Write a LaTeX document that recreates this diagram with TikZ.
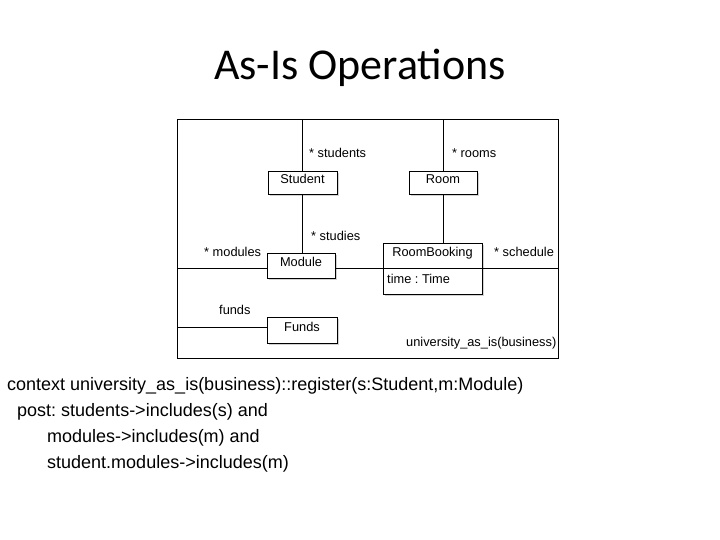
\documentclass[tikz,border=0pt]{standalone}
\usepackage{fontspec}
\setmainfont{Liberation Sans}
\newfontfamily\titlefont{Carlito}
\usetikzlibrary{shadows}
\frenchspacing
\begin{document}
\frenchspacing
\begin{tikzpicture}[x=1pt,y=-1pt,
  umlbox/.style={draw=black,fill=white,line width=0.8pt,inner sep=0pt,
    drop shadow={shadow xshift=2pt,shadow yshift=-2pt,fill=gray!35,opacity=1}},
  umltxt/.style={inner sep=0pt,font=\fontsize{12.8}{14}\selectfont},
  lbl/.style={inner sep=0pt,anchor=west,font=\fontsize{12.8}{14}\selectfont},
  ocl/.style={inner sep=0pt,anchor=west,font=\frenchspacing\fontsize{18}{20}\selectfont},
  conn/.style={draw=black,line width=0.8pt}]
\useasboundingbox (0,0) rectangle (720,540);
% title
\node[inner sep=0pt,font=\titlefont\fontsize{44}{48}\selectfont] (title) at (360,68) {As-Is Operations};
% frame
\draw[line width=0.8pt] (177,119) rectangle (558,358);
\coordinate (stop) at (302.5,119);
\coordinate (rtop) at (443,119);
\coordinate (ml) at (177,268);
\coordinate (mr) at (558,268);
\coordinate (fl) at (177,327);
% classes
\node[umlbox,minimum width=69,minimum height=23] (student) at (302.5,182.5) {};
\node[umltxt] (studentT) at (302.5,179) {Student};
\node[umlbox,minimum width=68,minimum height=23] (room) at (443,182.5) {};
\node[umltxt] (roomT) at (443,179) {Room};
\node[umlbox,minimum width=68,minimum height=25] (module) at (301,265.5) {};
\node[umltxt] (moduleT) at (301,262) {Module};
\node[umlbox,minimum width=99,minimum height=51] (rb) at (432.5,268.5) {};
\node[umltxt] (rbT) at (432.5,253) {RoomBooking};
\node[umlbox,minimum width=70,minimum height=26] (funds) at (302,330) {};
\node[umltxt] (fundsT) at (302,327) {Funds};
% connectors
\draw[conn] (stop) -- (student.north);
\draw[conn] (student.south) -- (student.south |- module.north);
\draw[conn] (rtop) -- (room.north);
\draw[conn] (room.south) -- (room.south |- rb.north);
\draw[conn] (ml) -- (ml -| module.west);
\draw[conn] (module.east |- ml) -- (ml -| rb.west);
\draw[conn] (rb.west |- ml) -- (rb.east |- ml);
\draw[conn] (rb.east |- ml) -- (mr);
\draw[conn] (fl) -- (fl -| funds.west);
% labels
\node[lbl] (l1) at (309,153) {* students};
\node[lbl] (l2) at (452,153) {* rooms};
\node[lbl] (l3) at (311,236) {* studies};
\node[lbl] (l4) at (204,252) {* modules};
\node[lbl] (l5) at (494,252) {* schedule};
\node[lbl] (l6) at (387,279) {time : Time};
\node[lbl] (l7) at (219,310) {funds};
\node[lbl] (l8) at (406,343) {university\_as\_is(business)};
% OCL text
\node[ocl] (o1) at (7,386) {context university\_as\_is(business)::register(s:Student,m:Module)};
\node[ocl] (o2) at (17,412) {post: students->includes(s) and};
\node[ocl] (o3) at (47,438) {modules->includes(m) and};
\node[ocl] (o4) at (47,464) {student.modules->includes(m)};
\end{tikzpicture}
\end{document}
